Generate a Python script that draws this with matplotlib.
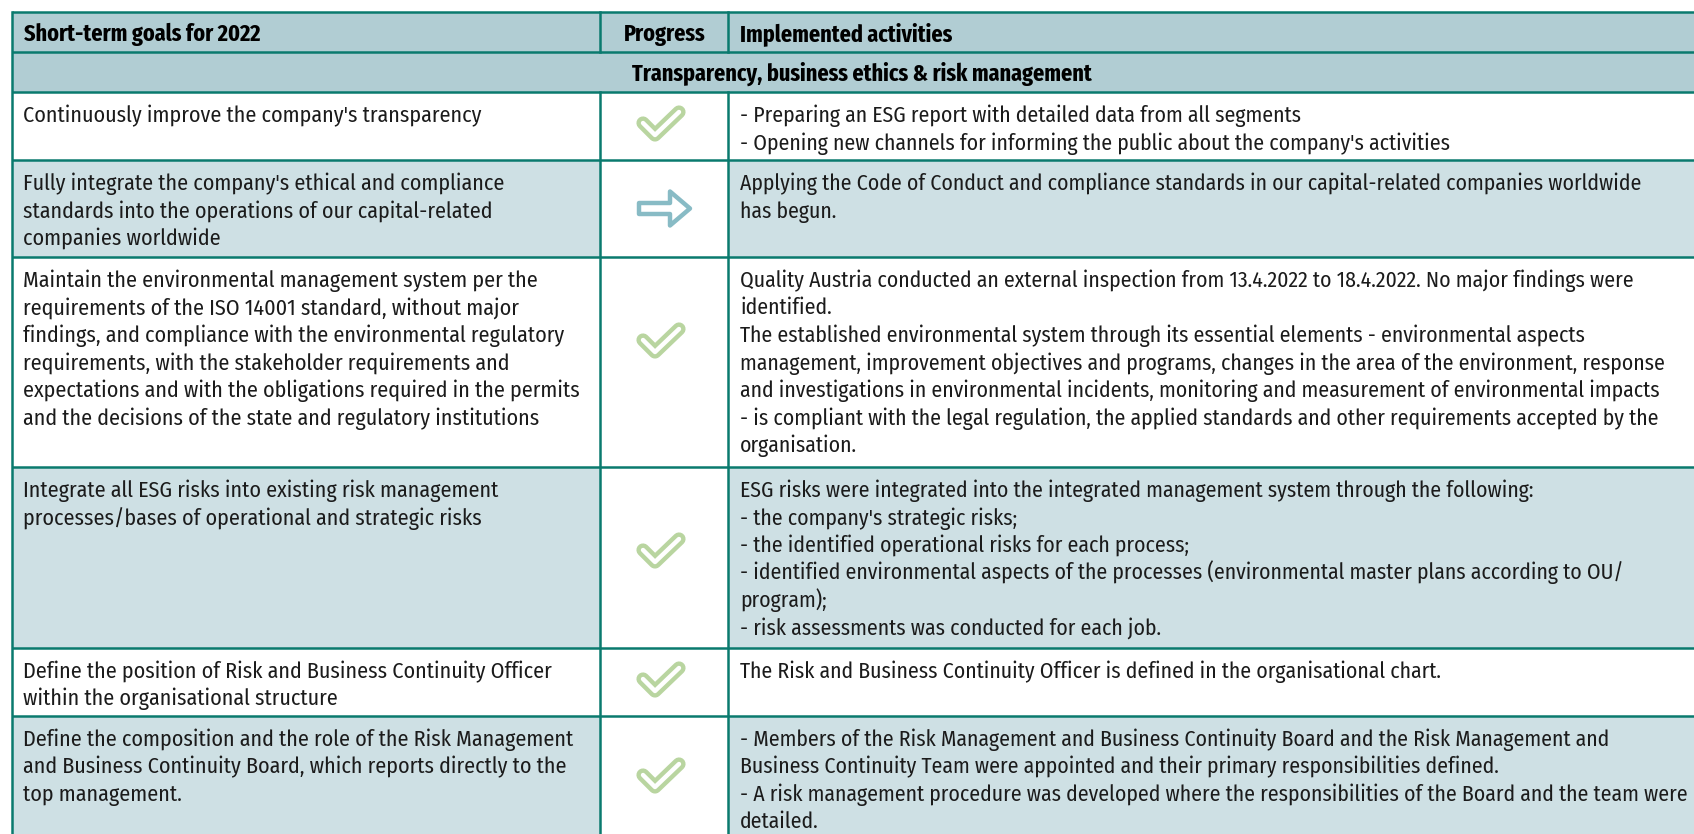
import matplotlib.pyplot as plt
from matplotlib.patches import Rectangle, Polygon

# Teks tabel
judul_kolom = ["Short-term goals for 2022", "Progress", "Implemented activities"]
judul_bagian = "Transparency, business ethics & risk management"

tujuan = [
    "Continuously improve the company's transparency",
    "Fully integrate the company's ethical and compliance\n"
    "standards into the operations of our capital-related\n"
    "companies worldwide",
    "Maintain the environmental management system per the\n"
    "requirements of the ISO 14001 standard, without major\n"
    "findings, and compliance with the environmental regulatory\n"
    "requirements, with the stakeholder requirements and\n"
    "expectations and with the obligations required in the permits\n"
    "and the decisions of the state and regulatory institutions",
    "Integrate all ESG risks into existing risk management\n"
    "processes/bases of operational and strategic risks",
    "Define the position of Risk and Business Continuity Officer\n"
    "within the organisational structure",
    "Define the composition and the role of the Risk Management\n"
    "and Business Continuity Board, which reports directly to the\n"
    "top management.",
]

progres = ["done", "ongoing", "done", "done", "done", "done"]

kegiatan = [
    "- Preparing an ESG report with detailed data from all segments\n"
    "- Opening new channels for informing the public about the company's activities",
    "Applying the Code of Conduct and compliance standards in our capital-related companies worldwide\n"
    "has begun.",
    "Quality Austria conducted an external inspection from 13.4.2022 to 18.4.2022. No major findings were\n"
    "identified.\n"
    "The established environmental system through its essential elements - environmental aspects\n"
    "management, improvement objectives and programs, changes in the area of the environment, response\n"
    "and investigations in environmental incidents, monitoring and measurement of environmental impacts\n"
    "- is compliant with the legal regulation, the applied standards and other requirements accepted by the\n"
    "organisation.",
    "ESG risks were integrated into the integrated management system through the following:\n"
    "- the company's strategic risks;\n"
    "- the identified operational risks for each process;\n"
    "- identified environmental aspects of the processes (environmental master plans according to OU/\n"
    "program);\n"
    "- risk assessments was conducted for each job.",
    "The Risk and Business Continuity Officer is defined in the organisational chart.",
    "- Members of the Risk Management and Business Continuity Board and the Risk Management and\n"
    "Business Continuity Team were appointed and their primary responsibilities defined.\n"
    "- A risk management procedure was developed where the responsibilities of the Board and the team were\n"
    "detailed.",
]

# Tata letak (piksel)
W, H = 1694, 834
kolom = [12, 600, 728, 1712]
baris = [12, 52, 92, 160, 257, 467, 648, 716, 840]
JARAK_BARIS = 27.5

# Warna
GARIS = "#0a7a6e"
HEADER = "#b1cdd3"
ARSIR = "#cee0e4"
HIJAU = "#b9d5a0"
BIRU = "#88bbc5"
TEKS = "#1b1b1b"

FONT = ["Fira Sans Condensed", "IBM Plex Sans Condensed", "DejaVu Sans"]
FONT_JUDUL = ["Fira Sans Extra Condensed", "Open Sans Condensed", "IBM Plex Sans Condensed", "DejaVu Sans"]

fig = plt.figure(figsize=(W / 100, H / 100), dpi=100)
ax = fig.add_axes([0, 0, 1, 1])
ax.set_xlim(0, W)
ax.set_ylim(H, 0)
ax.axis("off")
renderer = fig.canvas.get_renderer()


def ukuran_pas(daftar_teks, lebar, family, weight="normal"):
    # cari ukuran huruf supaya baris terlebar sama dengan lebar di gambar asli
    w_max = 0
    for teks in daftar_teks:
        t = ax.text(0, 0, teks, family=family, fontsize=20, fontweight=weight)
        w_max = max(w_max, t.get_window_extent(renderer).width)
        t.remove()
    return 20 * lebar / w_max


semua_kanan = [b for teks in kegiatan for b in teks.split("\n")]
UK_KIRI = ukuran_pas([tujuan[0]], 458, FONT)
UK_KANAN = ukuran_pas(semua_kanan, 945, FONT)
UK_JUDUL = ukuran_pas([judul_kolom[0]], 237, FONT_JUDUL, "bold")

# Latar belakang header dan judul bagian
ax.add_patch(Rectangle((kolom[0], baris[0]), kolom[3] - kolom[0], baris[2] - baris[0],
                       facecolor=HEADER, edgecolor="none"))

# Baris data, kolom progres selalu putih
for i in range(len(tujuan)):
    y0, y1 = baris[i + 2], baris[i + 3]
    warna = ARSIR if i % 2 == 1 else "white"
    ax.add_patch(Rectangle((kolom[0], y0), kolom[1] - kolom[0], y1 - y0, facecolor=warna, edgecolor="none"))
    ax.add_patch(Rectangle((kolom[2], y0), kolom[3] - kolom[2], y1 - y0, facecolor=warna, edgecolor="none"))

# Garis horizontal
for y in baris[:-1]:
    ax.plot([kolom[0], kolom[3]], [y, y], color=GARIS, lw=1.8, solid_capstyle="butt")

# Garis vertikal
ax.plot([kolom[0], kolom[0]], [baris[0], H], color=GARIS, lw=1.8)
for x in kolom[1:3]:
    ax.plot([x, x], [baris[0], baris[1]], color=GARIS, lw=1.8)
    ax.plot([x, x], [baris[2], H], color=GARIS, lw=1.8)

# Judul kolom
ax.text(kolom[0] + 12, 41, judul_kolom[0], family=FONT_JUDUL, fontsize=UK_JUDUL, fontweight="bold",
        color="black", va="baseline", ha="left")
ax.text((kolom[1] + kolom[2]) / 2 + 1, 41, judul_kolom[1], family=FONT_JUDUL, fontsize=UK_JUDUL,
        fontweight="bold", color="black", va="baseline", ha="center")
ax.text(kolom[2] + 12, 41, judul_kolom[2], family=FONT_JUDUL, fontsize=UK_JUDUL, fontweight="bold",
        color="black", va="baseline", ha="left")

# Judul bagian
ax.text((kolom[0] + kolom[3]) / 2, 81, judul_bagian, family=FONT_JUDUL,
        fontsize=UK_JUDUL, fontweight="bold", color="black", va="baseline", ha="center")


def gambar_centang(cx, cy):
    xs = [cx - 18, cx - 6, cx + 18]
    ys = [cy - 3, cy + 9, cy - 14]
    ax.plot(xs, ys, color=HIJAU, lw=9.5, solid_capstyle="round", solid_joinstyle="round")
    ax.plot(xs, ys, color="white", lw=3.2, solid_capstyle="round", solid_joinstyle="round")


def gambar_panah(cx, cy):
    titik = [(cx - 25, cy - 5.5), (cx + 6, cy - 5.5), (cx + 6, cy - 17), (cx + 26, cy),
             (cx + 6, cy + 17), (cx + 6, cy + 5.5), (cx - 25, cy + 5.5)]
    ax.add_patch(Polygon(titik, closed=True, facecolor="white", edgecolor=BIRU, lw=3.2,
                         joinstyle="round"))


def tulis(x, y_atas, teks, ukuran):
    for k, baris_teks in enumerate(teks.split("\n")):
        ax.text(x, y_atas + 30 + k * JARAK_BARIS, baris_teks, family=FONT, fontsize=ukuran,
                color=TEKS, va="baseline", ha="left")


# Isi baris
for i in range(len(tujuan)):
    y0, y1 = baris[i + 2], baris[i + 3]
    tulis(kolom[0] + 11, y0, tujuan[i], UK_KIRI)
    tulis(kolom[2] + 12, y0, kegiatan[i], UK_KANAN)

    cx = (kolom[1] + kolom[2]) / 2 - 3
    cy = min((y0 + y1) / 2, y0 + 86)
    if progres[i] == "done":
        gambar_centang(cx, cy)
    else:
        gambar_panah(cx + 3, cy)

fig.savefig("out.png", dpi=100)
